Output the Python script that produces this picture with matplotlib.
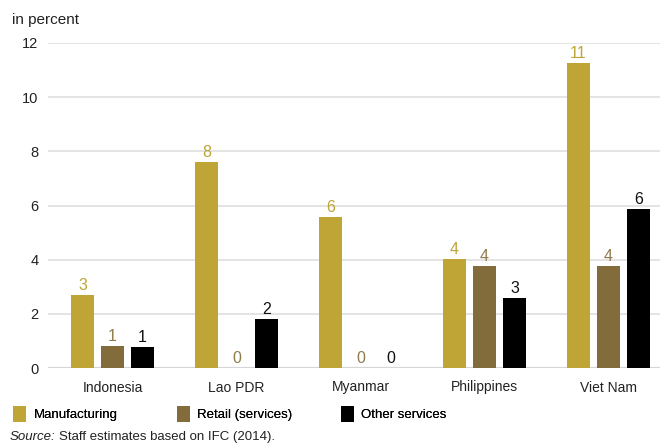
import matplotlib
matplotlib.use("Agg")
import matplotlib.pyplot as plt
import numpy as np

plt.rcParams['font.family'] = ['Liberation Sans', 'DejaVu Sans']

categories = ["Indonesia", "Lao PDR", "Myanmar", "Philippines", "Viet Nam"]
series_names = ["Manufacturing", "Retail (services)", "Other services"]
manufacturing = [2.7, 7.6, 5.58, 4.02, 11.26]
retail = [0.81, 0.0, 0.0, 3.77, 3.77]
other = [0.77, 1.81, 0.0, 2.58, 5.87]
labels_manufacturing = ["3", "8", "6", "4", "11"]
labels_retail = ["1", "0", "0", "4", "4"]
labels_other = ["1", "2", "0", "3", "6"]
yticks = [0, 2, 4, 6, 8, 10, 12]

colors = ["#BEA535", "#826C3C", "#000000"]
label_colors = ["#BEA535", "#8F7A4A", "#111111"]

fig = plt.figure(figsize=(6.6, 4.45), dpi=100)
ax = fig.add_axes([48/660, 1-368/445, 1-48/660, (368-43)/445])

x = np.arange(len(categories))
w = 23/124
off = 30/124
series = [manufacturing, retail, other]
labs = [labels_manufacturing, labels_retail, labels_other]
handles = []
for i, (vals, lab) in enumerate(zip(series, labs)):
    pos = x + (i-1)*off
    b = ax.bar(pos, vals, width=w, color=colors[i], zorder=3)
    handles.append(b)
    for p, v, t in zip(pos, vals, lab):
        ax.text(p, v + 0.07, t, ha='center', va='bottom', fontsize=11.5,
                color=label_colors[i], zorder=4)

ax.set_xlim((48-112.5)/124, (660-112.5)/124)
ax.set_ylim(0, 12)
ax.set_yticks(yticks)
ax.set_yticklabels([str(t) for t in yticks], fontsize=10.5)
ax.set_xticks(x)
ax.set_xticklabels(categories, fontsize=10)
ax.tick_params(axis='both', length=0, colors='#222222')
ax.tick_params(axis='y', pad=7)
ax.tick_params(axis='x', pad=9)
for s in ax.spines.values():
    s.set_visible(False)
ax.grid(axis='y', color='#dddddd', linewidth=1.1, zorder=0)
ax.axhline(0, color='#d6d6d6', linewidth=1.6, zorder=2)

fig.text(12/660, 1-20/445, "in percent", fontsize=11, va='center', ha='left', color='#222222')

legend_x = [13/660, 177/660, 341/660]
for hx, h, name in zip(legend_x, handles, series_names):
    lg = fig.legend([h], [name], loc='center left', bbox_to_anchor=(hx, 1-414/445),
                    frameon=False, fontsize=9.5, handlelength=0.95, handleheight=1.4,
                    handletextpad=0.6, borderpad=0, borderaxespad=0)
    fig.add_artist(lg)

src_y = 1-437/445
t1 = fig.text(10/660, src_y, "Source:", fontsize=9.5, style='italic', va='center', ha='left', color='#222222')
fig.canvas.draw()
bb = t1.get_window_extent(renderer=fig.canvas.get_renderer())
fig.text(bb.x1/660 + 3/660, src_y, "Staff estimates based on IFC (2014).", fontsize=9.5,
         va='center', ha='left', color='#222222')

fig.savefig("out.png", dpi=100)
